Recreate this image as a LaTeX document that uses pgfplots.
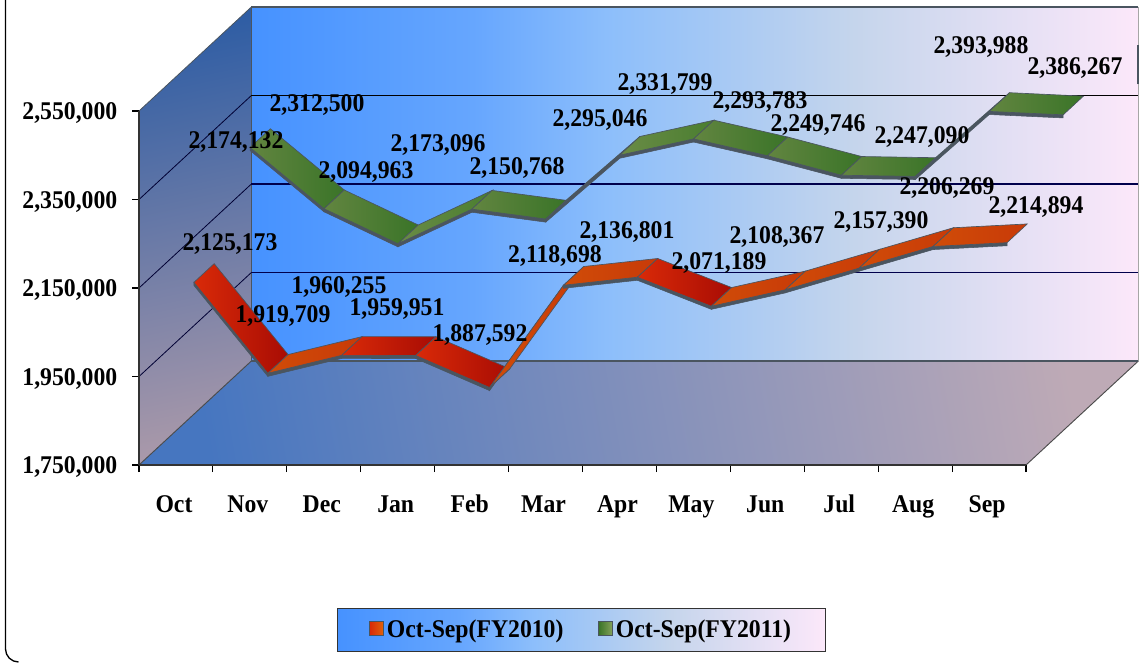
\documentclass[border=0pt]{standalone}
\usepackage{pgfplots}
\pgfplotsset{compat=1.18}
\usepackage{fontspec}
\setmainfont[FakeStretch=0.93]{Liberation Serif}
\newlength\px \setlength\px{0.75pt}
\definecolor{wA}{HTML}{4692FF}
\definecolor{wB}{HTML}{66A6FE}
\definecolor{wC}{HTML}{8CBEFB}
\definecolor{wD}{HTML}{C5D5EC}
\definecolor{wE}{HTML}{FCE8FA}
\definecolor{edge}{HTML}{4A5560}
\definecolor{rA}{HTML}{D92A08}\definecolor{rB}{HTML}{E0640A}\definecolor{rC}{HTML}{A80C04}
\definecolor{oA}{HTML}{D04C08}\definecolor{oB}{HTML}{E0700E}\definecolor{oC}{HTML}{C83A08}
\definecolor{gA}{HTML}{628540}\definecolor{gB}{HTML}{86A25C}\definecolor{gC}{HTML}{3A7428}
\definecolor{hA}{HTML}{6A8B46}\definecolor{hB}{HTML}{82A058}\definecolor{hC}{HTML}{4A7E30}
\pgfdeclarehorizontalshading{wallgrad}{100bp}{
 color(0bp)=(wA); color(25bp)=(wA); color(37.5bp)=(wB); color(45bp)=(wC); color(59bp)=(wD); color(75bp)=(wE); color(100bp)=(wE)}
% ribbon segment: #1/#2 palette when falling / rising, #3 x-left, #4 value-left, #5 value-right,
% #6,#7 front depth shift (x,value), #8,#9 back depth shift (x,value)
\newcommand\seg[9]{%
 \pgfmathsetmacro\xa{#3+#6}\pgfmathsetmacro\xb{#3+1+#6}%
 \pgfmathsetmacro\xc{#3+1+#8}\pgfmathsetmacro\xd{#3+#8}%
 \edef\ya{\the\numexpr#4+#7\relax}\edef\yb{\the\numexpr#5+#7\relax}%
 \edef\yc{\the\numexpr#5+#9\relax}\edef\yd{\the\numexpr#4+#9\relax}%
 \edef\ye{\the\numexpr#4+#7-7000\relax}\edef\yf{\the\numexpr#5+#7-7000\relax}%
 \ifnum#5>#4\relax\def\pal{#2}\else\def\pal{#1}\fi
 \addplot[forget plot,fill=edge,draw=edge,thin] coordinates {(\xa,\ya)(\xb,\yb)(\xb,\yf)(\xa,\ye)} --cycle;
 \edef\doit{\noexpand\addplot[forget plot,draw=edge,line width=0.5pt,left color=\pal A,middle color=\pal B,right color=\pal C] coordinates {(\xa,\ya)(\xb,\yb)(\xc,\yc)(\xd,\yd)} --cycle;}\doit
}
\newcommand\rseg[3]{\seg{r}{o}{#1}{#2}{#3}{0.743}{37600}{1.017}{79900}}
\newcommand\gseg[3]{\seg{g}{h}{#1}{#2}{#3}{1.503}{155100}{1.777}{197400}}
\newcommand\lblfont{\bfseries\fontsize{25.5\px}{25.5\px}\selectfont}
\newcommand\lbl[3]{\node[font=\lblfont,text=black,inner sep=0pt] at (#1\px,{(662-#2)*\px}) {#3};}
\begin{document}
\begin{tikzpicture}[x=1pt,y=1pt]
\path[use as bounding box] (0,0) rectangle (1143\px,662\px);
\draw[black,line width=1pt] (5.5\px,662\px) -- (5.5\px,13\px) arc[start angle=180,end angle=270,radius=13\px];
\begin{axis}[
 at={(139\px,197\px)},anchor=south west,
 scale only axis,width=887\px,height=354\px,
 xmin=0,xmax=12,ymin=1750000,ymax=2550000,
 clip=false,axis on top=true,scaled y ticks=false,
 axis x line*=bottom,axis y line*=left,
 x axis line style={-,line width=1.2pt,draw=black!80},
 y axis line style={-,line width=1.2pt,draw=black!80},
 xtick={0,...,12},x tick label as interval,
 xticklabels={Oct,Nov,Dec,Jan,Feb,Mar,Apr,May,Jun,Jul,Aug,Sep},
 ytick={1750000,1950000,2150000,2350000,2550000},
 yticklabels={{1,750,000},{1,950,000},{2,150,000},{2,350,000},{2,550,000}},
 tick align=outside,major tick length=7\px,
 tick style={black,line width=0.8pt},
 ticklabel style={font=\lblfont},
 xticklabel style={yshift=-20\px,xshift=-2\px,text height=16\px,text depth=5\px},
 yticklabel style={xshift=-10\px,yshift=-2\px},
 legend style={at={(rel axis cs:0.2232,0)},anchor=north west,legend columns=2,
   draw=black!80,shading=wallgrad,shading angle=0,
   font=\lblfont,
   yshift=-143\px,inner xsep=32\px,inner ysep=9\px,
   /tikz/every even column/.append style={column sep=32\px}},
]
% walls
\shade[shading=wallgrad,shading angle=0] (axis cs:1.52,1985000) rectangle (axis cs:13.52,2785000);
\begin{scope}
\clip (axis cs:0,1750000) -- (axis cs:1.52,1985000) -- (axis cs:1.52,2785000) -- (axis cs:0,2550000) -- cycle;
\shade[top color={rgb,255:red,44;green,92;blue,164},bottom color={rgb,255:red,176;green,156;blue,170},shading angle=12] (axis cs:-1,1700000) rectangle (axis cs:2.5,2800000);
\end{scope}
\shade[left color={rgb,255:red,70;green,118;blue,192},middle color={rgb,255:red,112;green,150;blue,188},right color={rgb,255:red,190;green,170;blue,182},shading angle=100] (axis cs:0,1750000) -- (axis cs:12,1750000) -- (axis cs:13.52,1985000) -- (axis cs:1.52,1985000) -- cycle;
% grid
\draw[edge,line width=1.2pt] (axis cs:1.52,2785000)--(axis cs:13.52,2785000);
\draw[black!35,line width=1.2pt] (axis cs:13.52,2785000)--(axis cs:13.52,1985000);
\draw[edge,line width=0.7pt] (axis cs:1.52,1985000)--(axis cs:1.52,2785000);
\draw[black!70,line width=0.7pt] (axis cs:0,1750000)--(axis cs:1.52,1985000);
\draw[black!70,line width=0.7pt] (axis cs:12,1750000)--(axis cs:13.52,1985000);
\draw[edge,line width=0.6pt] (axis cs:0,2550000)--(axis cs:1.52,2785000);
\draw[edge,line width=0.8pt] (axis cs:1.52,1985000)--(axis cs:13.52,1985000);
\draw[black!80!blue,line width=0.6pt] (axis cs:0,1950000)--(axis cs:1.52,2185000);
\draw[black!80!blue,line width=0.6pt] (axis cs:0,2150000)--(axis cs:1.52,2385000);
\draw[black!80!blue,line width=0.6pt] (axis cs:0,2350000)--(axis cs:1.52,2585000);
\draw[black!70!blue,line width=0.9pt] (axis cs:1.52,2185000)--(axis cs:13.52,2185000);
\draw[black!70!blue,line width=0.9pt] (axis cs:1.52,2385000)--(axis cs:13.52,2385000);
\draw[black,line width=1.1pt] (axis cs:1.52,2585000)--(axis cs:13.52,2585000);
\draw[edge,line width=1.6pt] (axis cs:13.52,2610000)--(axis cs:13.52,2700000);
% FY2010
\rseg{0}{2125173}{1919709}
\rseg{1}{1919709}{1960255}
\rseg{2}{1960255}{1959951}
\rseg{3}{1959951}{1887592}
\rseg{4}{1887592}{2118698}
\rseg{5}{2118698}{2136801}
\rseg{6}{2136801}{2071189}
\rseg{7}{2071189}{2108367}
\rseg{8}{2108367}{2157390}
\rseg{9}{2157390}{2206269}
\rseg{10}{2206269}{2214894}
% FY2011
\gseg{0}{2312500}{2174132}
\gseg{1}{2174132}{2094963}
\gseg{2}{2094963}{2173096}
\gseg{3}{2173096}{2150768}
\gseg{4}{2150768}{2295046}
\gseg{5}{2295046}{2331799}
\gseg{6}{2331799}{2293783}
\gseg{7}{2293783}{2249746}
\gseg{8}{2249746}{2247090}
\gseg{9}{2247090}{2393988}
\gseg{10}{2393988}{2386267}
\addlegendimage{legend image code/.code={\shade[left color=rA,right color=rB,draw=edge,line width=0.8pt] (0pt,-4.5pt) rectangle (10.5pt,6pt);}}
\addlegendentry{Oct-Sep(FY2010)}
\addlegendimage{legend image code/.code={\shade[left color=gC,right color=gB,draw=edge,line width=0.8pt] (0pt,-4.5pt) rectangle (10.5pt,6pt);}}
\addlegendentry{Oct-Sep(FY2011)}
\end{axis}
\lbl{317}{105}{2,312,500}
\lbl{236}{142}{2,174,132}
\lbl{366}{172}{2,094,963}
\lbl{438}{145}{2,173,096}
\lbl{517}{168}{2,150,768}
\lbl{600}{120}{2,295,046}
\lbl{665}{84}{2,331,799}
\lbl{760}{102}{2,293,783}
\lbl{818}{125}{2,249,746}
\lbl{922}{137}{2,247,090}
\lbl{981}{47}{2,393,988}
\lbl{1075}{68}{2,386,267}
\lbl{230}{244}{2,125,173}
\lbl{283}{316}{1,919,709}
\lbl{339}{287}{1,960,255}
\lbl{397}{309}{1,959,951}
\lbl{480}{335}{1,887,592}
\lbl{555}{256}{2,118,698}
\lbl{627}{232}{2,136,801}
\lbl{719}{263}{2,071,189}
\lbl{777}{237}{2,108,367}
\lbl{881}{222}{2,157,390}
\lbl{947}{188}{2,206,269}
\lbl{1036}{207}{2,214,894}
\end{tikzpicture}
\end{document}
